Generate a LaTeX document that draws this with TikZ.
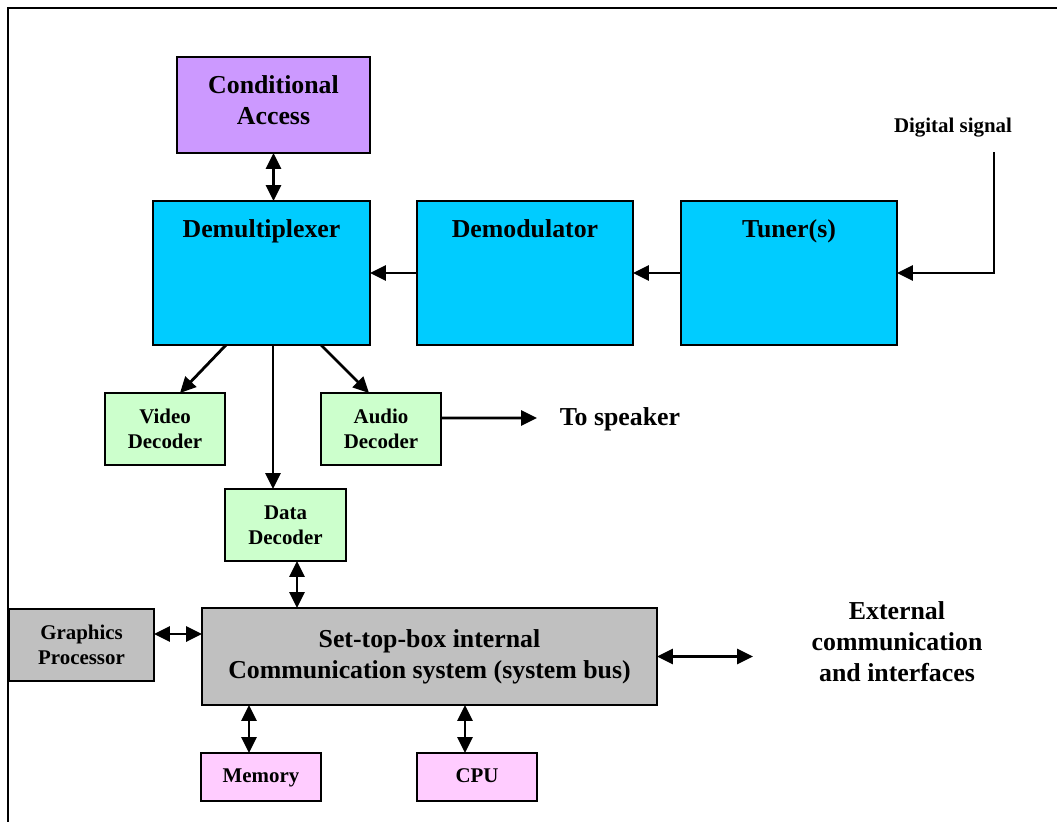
\documentclass[tikz,border=0pt]{standalone}
\usepackage{fontspec}
\setmainfont{Liberation Serif}
\usetikzlibrary{arrows.meta}

\definecolor{capurple}{HTML}{CC99FF}
\definecolor{rfcyan}{HTML}{00CCFF}
\definecolor{decgreen}{HTML}{CCFFCC}
\definecolor{busgray}{HTML}{C0C0C0}
\definecolor{mempink}{HTML}{FFCCFF}

\tikzset{
  blk/.style={draw=black, line width=1.1pt, rectangle, inner sep=0pt, outer sep=0pt, align=center},
  big/.style={font=\fontsize{14.7}{17.6}\selectfont\bfseries},
  small/.style={font=\fontsize{11.9}{14.2}\selectfont\bfseries},
  oneline/.style={text height=0.66em, text depth=0pt},
  conn/.style={line width=1.6pt, -{Triangle[length=9pt,width=8.5pt]}},
  biconn/.style={line width=1.6pt, {Triangle[length=9pt,width=8.5pt]}-{Triangle[length=9pt,width=8.5pt]}},
  toplabel/.style={label={[big, anchor=base, yshift=-0.72cm]north:#1}}
}

\begin{document}
\begin{tikzpicture}[x=0.02cm, y=-0.02cm]
  \useasboundingbox (0,0) rectangle (1057,821);

  % outer frame (left and top edges)
  \draw[line width=1pt] (8,830) -- (8,8) -- (1070,8);

  % front end
  \node[blk, fill=capurple, minimum width=3.86cm, minimum height=1.92cm,
        label={[big, align=center, yshift=0.1cm]center:Conditional\\Access}] (ca) at (273.5,105) {};
  \node[blk, fill=rfcyan, minimum width=4.34cm, minimum height=2.88cm, toplabel=Demultiplexer] (demux) at (261.5,273) {};
  \node[blk, fill=rfcyan, minimum width=4.32cm, minimum height=2.88cm, toplabel=Demodulator] (demod) at (525,273) {};
  \node[blk, fill=rfcyan, minimum width=4.32cm, minimum height=2.88cm, toplabel=Tuner(s)] (tuner) at (789,273) {};

  \node[small] (dsig) at (953,128) {Digital signal};
  \coordinate (dsigtop) at (994,152);

  % decoders
  \node[blk, small, fill=decgreen, minimum width=2.4cm, minimum height=1.44cm] (video) at (165,429) {Video\\Decoder};
  \node[blk, small, fill=decgreen, minimum width=2.4cm, minimum height=1.44cm] (audio) at (381,429) {Audio\\Decoder};
  \node[blk, small, fill=decgreen, minimum width=2.42cm, minimum height=1.44cm] (data) at (285.5,525) {Data\\Decoder};

  \coordinate (spk) at (537,418);
  \node[big] (tospk) at (620,419) {To speaker};

  % system bus and peripherals
  \node[blk, big, fill=busgray, minimum width=9.10cm, minimum height=1.94cm] (bus) at (429.5,656.5) {Set-top-box internal\\Communication system (system bus)};
  \node[blk, small, fill=busgray, minimum width=2.9cm, minimum height=1.44cm] (gp) at (81.5,645) {Graphics\\Processor};
  \node[blk, small, oneline, fill=mempink, minimum width=2.4cm, minimum height=0.96cm] (mem) at (261,777) {Memory};
  \node[blk, small, oneline, fill=mempink, minimum width=2.4cm, minimum height=0.96cm] (cpu) at (477,777) {CPU};

  \coordinate (extend) at (753,657);
  \node[big, align=center] (ext) at (897,642) {External\\communication\\and interfaces};

  % connectors
  \draw[biconn] (ca.south) -- (ca.south |- demux.north);
  \draw[conn] (demod.west) -- (demux.east);
  \draw[conn] (tuner.west) -- (demod.east);
  \draw[conn] (dsigtop) -- (dsigtop |- tuner.east) -- (tuner.east);

  \draw[conn] ([xshift=1.46cm]demux.south west) -- ([xshift=0.3cm]video.north);
  \draw[conn] ([xshift=3.36cm]demux.south west) -- ([xshift=-0.24cm]audio.north);
  \draw[conn] ([xshift=0.23cm]demux.south) -- ([xshift=0.23cm]demux.south |- data.north);
  \draw[conn] ([yshift=0.22cm]audio.east) -- (spk);

  \draw[biconn] ([xshift=0.23cm]data.south) -- ([xshift=0.23cm]data.south |- bus.north);
  \draw[biconn] ([yshift=0.22cm]gp.east) -- ([yshift=0.22cm]gp.east -| bus.west);
  \draw[biconn] (bus.east) -- (bus.east -| extend);
  \draw[biconn] ([xshift=-0.24cm]mem.north |- bus.south) -- ([xshift=-0.24cm]mem.north);
  \draw[biconn] ([xshift=-0.24cm]cpu.north |- bus.south) -- ([xshift=-0.24cm]cpu.north);
\end{tikzpicture}
\end{document}
